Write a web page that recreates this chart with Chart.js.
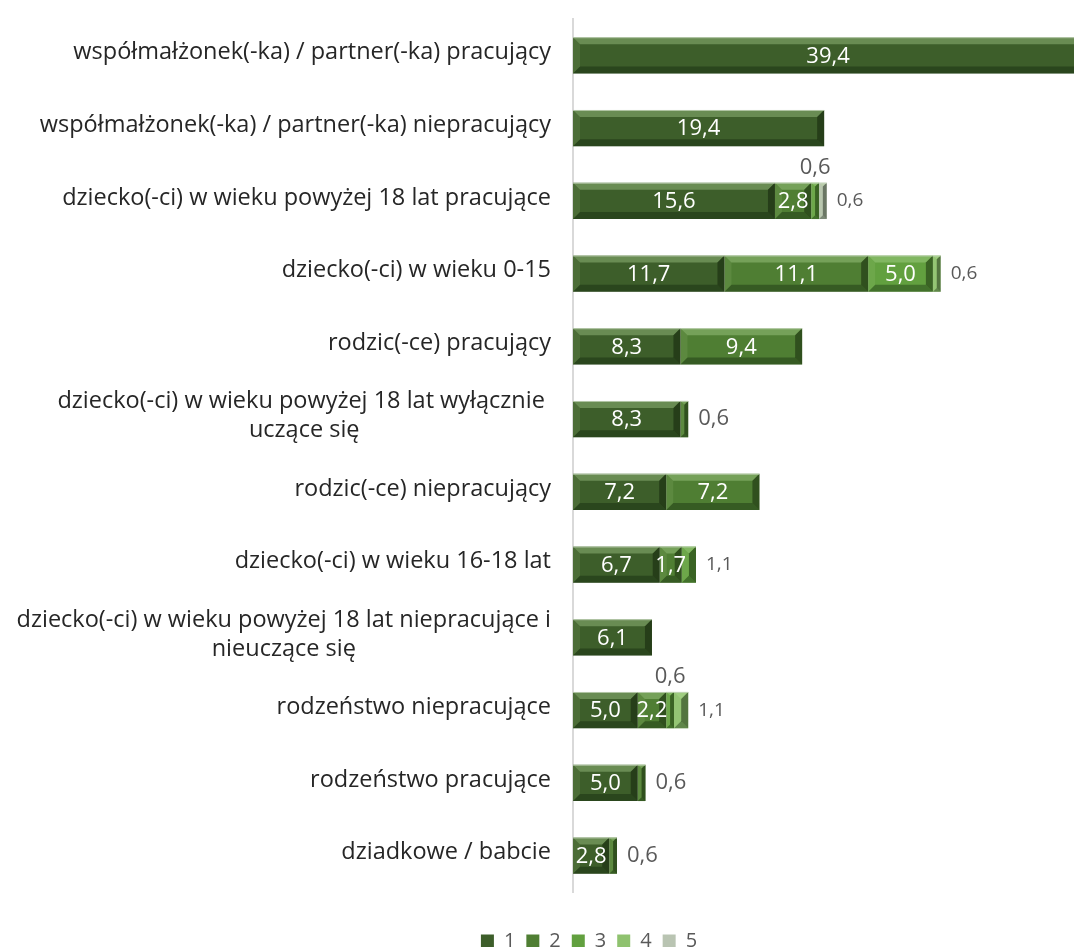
<!DOCTYPE html>
<html>
<head>
<meta charset="utf-8">
<script src="https://cdn.jsdelivr.net/npm/chart.js@4"></script>
<style>
html, body { margin: 0; padding: 0; background: #fff; overflow: hidden; }
#wrap { width: 1074px; height: 961px; position: relative; }
</style>
</head>
<body>
<div id="wrap"><canvas id="chart"></canvas></div>
<script>
const categories = [
    'współmałżonek(-ka) / partner(-ka) pracujący',
    'współmałżonek(-ka) / partner(-ka) niepracujący',
    'dziecko(-ci) w wieku powyżej 18 lat pracujące',
    'dziecko(-ci) w wieku 0-15',
    'rodzic(-ce) pracujący',
    ['dziecko(-ci) w wieku powyżej 18 lat wyłącznie ', 'uczące się'],
    'rodzic(-ce) niepracujący',
    'dziecko(-ci) w wieku 16-18 lat',
    ['dziecko(-ci) w wieku powyżej 18 lat niepracujące i', 'nieuczące się'],
    'rodzeństwo niepracujące',
    'rodzeństwo pracujące',
    'dziadkowe / babcie'
];
const seriesNames = ['1', '2', '3', '4', '5'];
const series1 = [39.4, 19.4, 15.6, 11.7, 8.3, 8.3, 7.2, 6.7, 6.1, 5.0, 5.0, 2.8];
const series2 = [null, null, 2.8, 11.1, 9.4, 0.6, 7.2, 1.7, null, 2.2, 0.6, 0.6];
const series3 = [null, null, 0.6, 5.0, null, null, null, 1.1, null, 0.6, null, null];
const series4 = [null, null, null, 0.6, null, null, null, null, null, 1.1, null, null];
const series5 = [null, null, 0.6, null, null, null, null, null, null, null, null, null];
const seriesColours = ['#3d5e2a', '#4f7e33', '#62a03f', '#8fc26f', '#b9c4b2'];

const FONT = "'Open Sans', sans-serif";

// bevel look + category names + value labels
const decorPlugin = {
    id: 'decor',
    afterDatasetsDraw(chart) {
        const ctx = chart.ctx;
        const area = chart.chartArea;
        const xs = chart.scales.x, ys = chart.scales.y;

        ctx.save();
        ctx.beginPath();
        ctx.rect(area.left, area.top, area.right - area.left, area.bottom - area.top);
        ctx.clip();
        chart.data.datasets.forEach((ds, di) => {
            chart.getDatasetMeta(di).data.forEach((bar, i) => {
                if (ds.data[i] == null) return;
                const p = bar.getProps(['x', 'y', 'base', 'height'], true);
                const L = Math.min(p.x, p.base), R = Math.max(p.x, p.base);
                const T = p.y - p.height / 2, B = p.y + p.height / 2;
                const b = Math.min(7, (R - L) / 2);
                const poly = (pts, fill) => {
                    ctx.beginPath();
                    ctx.moveTo(pts[0][0], pts[0][1]);
                    for (let k = 1; k < pts.length; k++) ctx.lineTo(pts[k][0], pts[k][1]);
                    ctx.closePath();
                    ctx.fillStyle = fill;
                    ctx.fill();
                };
                poly([[L, T], [R, T], [R - b, T + b], [L + b, T + b]], 'rgba(190,225,160,0.35)');
                poly([[L, B], [R, B], [R - b, B - b], [L + b, B - b]], 'rgba(10,25,5,0.35)');
                poly([[L, T], [L + b, T + b], [L + b, B - b], [L, B]], 'rgba(190,225,160,0.12)');
                poly([[R, T], [R - b, T + b], [R - b, B - b], [R, B]], 'rgba(10,25,5,0.45)');
                ctx.fillStyle = 'rgba(200,215,190,0.8)';
                ctx.fillRect(L, T, R - L, 1);
            });
        });
        ctx.restore();

        // value labels
        const fmt = v => v.toFixed(1).replace('.', ',');
        ctx.save();
        ctx.textBaseline = 'middle';
        categories.forEach((c, i) => {
            let total = 0;
            const small = [];
            chart.data.datasets.forEach((ds, di) => {
                const v = ds.data[i];
                if (v == null) return;
                total += v;
                if (v < 1.5) small.push(di);
            });
            const endX = xs.getPixelForValue(total);
            chart.data.datasets.forEach((ds, di) => {
                const v = ds.data[i];
                if (v == null) return;
                const p = chart.getDatasetMeta(di).data[i].getProps(['x', 'y', 'base', 'height'], true);
                if (v >= 1.5) {
                    ctx.font = '22px ' + FONT;
                    ctx.fillStyle = '#ffffff';
                    ctx.textAlign = 'center';
                    ctx.fillText(fmt(v), (p.x + p.base) / 2, p.y + 1);
                } else if (small.length > 1 && di === small[0]) {
                    ctx.font = '22px ' + FONT;
                    ctx.fillStyle = '#595959';
                    ctx.textAlign = 'center';
                    ctx.fillText(fmt(v), (p.x + p.base) / 2, p.y - p.height / 2 - 15);
                } else {
                    ctx.font = (di <= 1 ? '22px ' : '19px ') + FONT;
                    ctx.fillStyle = '#595959';
                    ctx.textAlign = 'left';
                    ctx.fillText(fmt(v), endX + 10, p.y);
                }
            });
        });
        ctx.restore();

        // category names
        ctx.save();
        ctx.font = '23.5px ' + FONT;
        ctx.fillStyle = '#262626';
        ctx.textBaseline = 'middle';
        ctx.textAlign = 'center';
        const right = area.left - 22;
        const lh = 29;
        categories.forEach((c, i) => {
            const lines = Array.isArray(c) ? c : [c];
            const w = Math.max(...lines.map(t => ctx.measureText(t).width));
            const cy = ys.getPixelForValue(i) - (lines.length - 1) * lh / 2 - 3;
            lines.forEach((t, k) => ctx.fillText(t, right - w / 2, cy + k * lh));
        });
        ctx.restore();
    }
};

const allSeries = [series1, series2, series3, series4, series5];

new Chart(document.getElementById('chart'), {
    type: 'bar',
    data: {
        labels: categories,
        datasets: allSeries.map((s, j) => ({
            label: seriesNames[j],
            data: s,
            backgroundColor: seriesColours[j],
            borderColor: seriesColours[j],
            borderWidth: 0,
            barPercentage: 0.5,
            categoryPercentage: 1
        }))
    },
    options: {
        indexAxis: 'y',
        responsive: true,
        maintainAspectRatio: false,
        animation: false,
        layout: { padding: { left: 104, right: 0, top: 19, bottom: 0 } },
        scales: {
            x: {
                stacked: true, min: 0, max: 38.7,
                ticks: { display: false },
                grid: { display: false },
                border: { display: false },
                afterFit(s) { s.height = 28; }
            },
            y: {
                stacked: true,
                ticks: { display: false },
                grid: { display: false },
                border: { color: '#d9d9d9', width: 2 },
                afterFit(s) { s.width = 469; }
            }
        },
        plugins: {
            legend: {
                position: 'bottom',
                labels: {
                    boxWidth: 13, boxHeight: 13, padding: 11,
                    color: '#595959',
                    font: { size: 20, family: FONT }
                }
            },
            tooltip: { enabled: false }
        }
    },
    plugins: [decorPlugin]
});
</script>
</body>
</html>
